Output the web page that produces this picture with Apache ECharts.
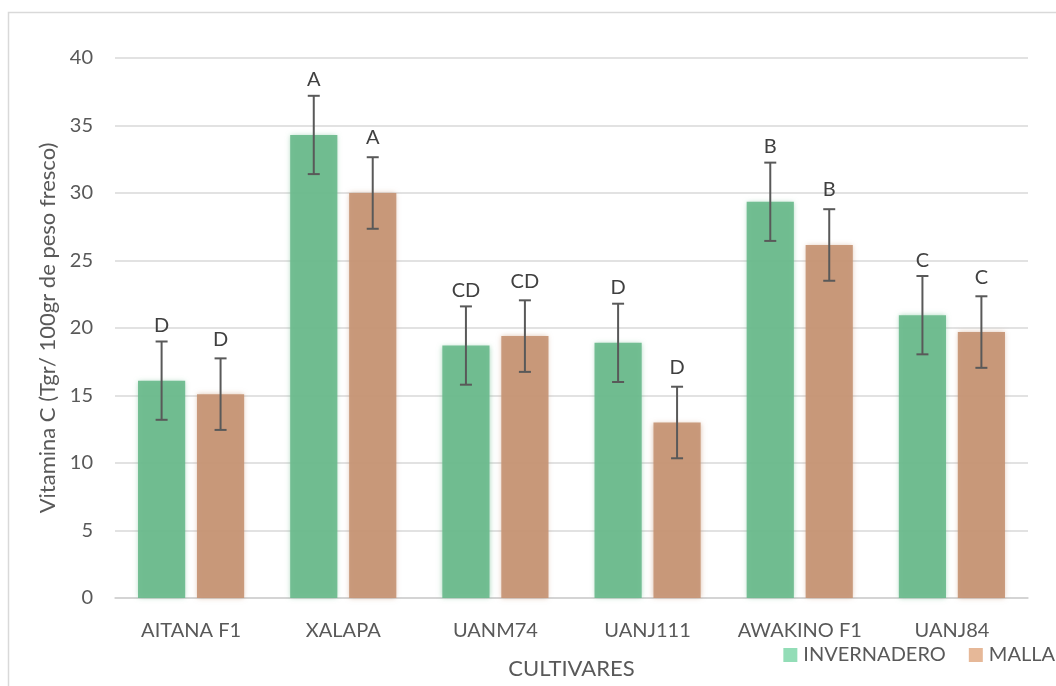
<!DOCTYPE html>
<html>
<head>
<meta charset="utf-8">
<script src="https://cdn.jsdelivr.net/npm/echarts@6/dist/echarts.min.js"></script>
<style>
  html, body { margin: 0; padding: 0; background: #ffffff; }
  #chart { width: 1056px; height: 686px; }
</style>
</head>
<body>
<div id="chart"></div>
<script>
// Vitamin C content per cultivar, greenhouse vs. shade-net
const cultivares = ['AITANA F1', 'XALAPA', 'UANM74', 'UANJ111', 'AWAKINO F1', 'UANJ84'];
const invernadero = [16.1, 34.3, 18.7, 18.9, 29.35, 20.95];
const malla = [15.1, 30.0, 19.4, 13.0, 26.15, 19.7];
const errInvernadero = [2.9, 2.9, 2.9, 2.9, 2.9, 2.9];
const errMalla = [2.65, 2.65, 2.65, 2.65, 2.65, 2.65];
const letrasInvernadero = ['D', 'A', 'CD', 'D', 'B', 'C'];
const letrasMalla = ['D', 'A', 'CD', 'D', 'B', 'C'];
const yTicks = { min: 0, max: 40, interval: 5 };

const FONT = 'Lato, "Open Sans", sans-serif';
const TXT = '#595959';
const BAR_W = 0.31;   // bar width as a share of the category band
const BAR_GAP = 0.25; // gap between paired bars, share of bar width

const chart = echarts.init(document.getElementById('chart'), null, { renderer: 'canvas' });

// Error bar with caps, shifted to sit on its bar inside the category pair
function errorRenderer(values, errors, side) {
  return function (params, api) {
    const i = api.value(0);
    const band = api.size([1, 0])[0];
    const bw = band * BAR_W;
    const shift = side * (bw + bw * BAR_GAP) / 2;
    const hi = api.coord([i, values[i] + errors[i]]);
    const lo = api.coord([i, values[i] - errors[i]]);
    const x = hi[0] + shift;
    const cap = 6;
    const style = { stroke: '#595959', lineWidth: 2 };
    return {
      type: 'group',
      children: [
        { type: 'line', shape: { x1: x, y1: hi[1], x2: x, y2: lo[1] }, style },
        { type: 'line', shape: { x1: x - cap, y1: hi[1], x2: x + cap, y2: hi[1] }, style },
        { type: 'line', shape: { x1: x - cap, y1: lo[1], x2: x + cap, y2: lo[1] }, style }
      ]
    };
  };
}

function letterLabel(letters) {
  return {
    show: true,
    position: 'top',
    distance: 45,
    formatter: (p) => letters[p.dataIndex],
    fontFamily: FONT,
    fontSize: 20,
    color: '#404040'
  };
}

const option = {
  backgroundColor: '#ffffff',
  animation: false,
  textStyle: { fontFamily: FONT },
  graphic: [{
    type: 'rect',
    silent: true,
    shape: { x: 8.5, y: 12.5, width: 1100, height: 720 },
    style: { fill: 'none', stroke: '#d9d9d9', lineWidth: 1.5 }
  }],
  grid: { left: 115, right: 28, top: 58, bottom: 88, containLabel: false, outerBoundsMode: 'none' },
  legend: {
    right: 1,
    top: 645,
    padding: 0,
    itemWidth: 14,
    itemHeight: 14,
    itemGap: 23,
    icon: 'rect',
    textStyle: { fontFamily: FONT, fontSize: 20, color: TXT, padding: [0, 0, 0, 1] },
    data: [
      { name: 'INVERNADERO', itemStyle: { color: '#93DDB7', shadowBlur: 0 } },
      { name: 'MALLA', itemStyle: { color: '#E6B898', shadowBlur: 0 } }
    ]
  },
  xAxis: {
    type: 'category',
    data: cultivares,
    name: 'CULTIVARES',
    nameLocation: 'middle',
    nameGap: 60,
    nameTextStyle: { fontFamily: FONT, fontSize: 22, color: TXT },
    axisLine: { lineStyle: { color: '#d0d0d0', width: 1.5 } },
    axisTick: { show: false },
    axisLabel: { interval: 0, fontFamily: FONT, fontSize: 20, color: TXT, margin: 23 }
  },
  yAxis: {
    type: 'value',
    min: yTicks.min,
    max: yTicks.max,
    interval: yTicks.interval,
    name: 'Vitamina C (Tgr/ 100gr de peso fresco)',
    nameLocation: 'middle',
    nameGap: 56,
    nameTextStyle: { fontFamily: FONT, fontSize: 22, color: TXT },
    axisLine: { show: false },
    axisTick: { show: false },
    axisLabel: { fontFamily: FONT, fontSize: 20, color: TXT, margin: 22 },
    splitLine: { lineStyle: { color: '#d9d9d9', width: 1.5 } }
  },
  series: [
    {
      name: 'INVERNADERO',
      type: 'bar',
      data: invernadero,
      barWidth: (BAR_W * 100) + '%',
      barGap: (BAR_GAP * 100) + '%',
      itemStyle: {
        color: 'rgba(106,186,140,0.92)',
        shadowBlur: 5,
        shadowColor: 'rgba(106,186,140,0.6)'
      },
      label: letterLabel(letrasInvernadero),
      z: 2
    },
    {
      name: 'MALLA',
      type: 'bar',
      data: malla,
      barWidth: (BAR_W * 100) + '%',
      barGap: (BAR_GAP * 100) + '%',
      itemStyle: {
        color: 'rgba(198,148,116,0.92)',
        shadowBlur: 5,
        shadowColor: 'rgba(198,148,116,0.6)'
      },
      label: letterLabel(letrasMalla),
      z: 2
    },
    {
      type: 'custom',
      name: 'errInvernadero',
      renderItem: errorRenderer(invernadero, errInvernadero, -1),
      data: invernadero.map((v, i) => [i, v]),
      encode: { x: 0, y: 1 },
      z: 5
    },
    {
      type: 'custom',
      name: 'errMalla',
      renderItem: errorRenderer(malla, errMalla, 1),
      data: malla.map((v, i) => [i, v]),
      encode: { x: 0, y: 1 },
      z: 5
    }
  ]
};

chart.setOption(option);
</script>
</body>
</html>
